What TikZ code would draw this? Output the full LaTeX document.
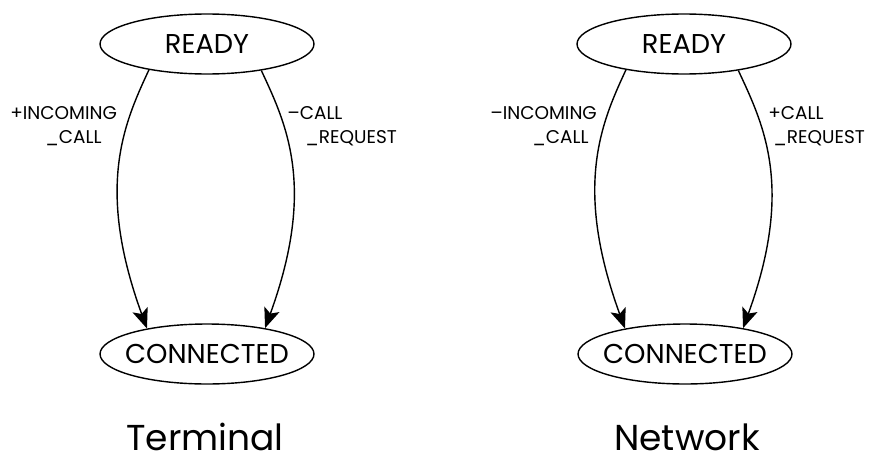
\documentclass[tikz,border=0pt]{standalone}
\usepackage{fontspec}
\setmainfont{Poppins}
\usetikzlibrary{arrows.meta, positioning, shapes.geometric}

\begin{document}
\begin{tikzpicture}[x=0.02cm, y=0.02cm,
		state/.style={draw, ellipse, line width=0.8pt, minimum width=4.28cm, minimum height=1.2cm, inner xsep=-0.25cm, inner ysep=0pt, font=\fontsize{15.5}{15.5}\selectfont},
		trans/.style={line width=0.8pt, -{Stealth[length=0.4cm, width=0.32cm, inset=0.09cm]}},
		lbl/.style={inner sep=0pt, align=left, font=\fontsize{10.5}{13.6}\selectfont},
		title/.style={inner sep=0pt, font=\fontsize{20.5}{20.5}\selectfont}]
			\useasboundingbox (0,0) rectangle (881,-463);
			% Terminal
			\node[state] (tready) at (207,-44) {READY};
			\node[state] (tconn) at (207,-354) {CONNECTED};
			\draw[trans] (tready.204) to[out=245, in=110, out distance=1.2cm, in distance=3cm] (tconn.157);
			\draw[trans] (tready.334) to[out=295, in=70, out distance=1.2cm, in distance=3cm] (tconn.24);
			\node[lbl, anchor=north west] (tin) at (10,-106) {+INCOMING\\\hspace*{0.7cm}\_CALL};
			\node[lbl, anchor=north west] (treq) at (287,-106) {--CALL\\\hspace*{0.36cm}\_REQUEST};
			\node[title, anchor=base] (tname) at (205,-450) {Terminal};
			% Network
			\node[state] (nready) at (684,-44) {READY};
			\node[state] (nconn) at (685,-354) {CONNECTED};
			\draw[trans] (nready.204) to[out=245, in=110, out distance=1.2cm, in distance=3cm] (nconn.157);
			\draw[trans] (nready.334) to[out=295, in=70, out distance=1.2cm, in distance=3cm] (nconn.24);
			\node[lbl, anchor=north west] (nin) at (490,-106) {--INCOMING\\\hspace*{0.84cm}\_CALL};
			\node[lbl, anchor=north west] (nreq) at (768,-106) {+CALL\\\hspace*{0.1cm}\_REQUEST};
			\node[title, anchor=base] (nname) at (687,-450) {Network};
		\end{tikzpicture}
\end{document}
